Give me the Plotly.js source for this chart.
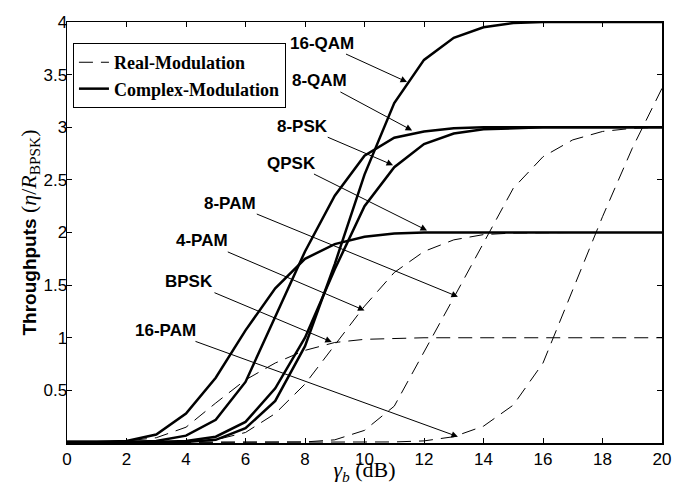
<!DOCTYPE html>
<html>
<head>
<meta charset="utf-8">
<script src="https://cdn.plot.ly/plotly-3.0.1.min.js"></script>
<style>html,body{margin:0;padding:0;background:#fff;}#chart{width:676px;height:485px;}</style>
</head>
<body>
<div id="chart"></div>
<script>
// SNR axis (dB)
const snr = [0,1,2,3,4,5,6,7,8,9,10,11,12,13,14,15,16,17,18,19,20];

// Complex modulations (solid)
const qpsk  = [0.01,0.01,0.02,0.08,0.28,0.62,1.07,1.47,1.75,1.89,1.96,1.99,2.0,2.0,2.0,2.0,2.0,2.0,2.0,2.0,2.0];
const qam8  = [0.01,0.01,0.01,0.02,0.07,0.22,0.58,1.2,1.82,2.35,2.73,2.9,2.96,2.99,3.0,3.0,3.0,3.0,3.0,3.0,3.0];
const psk8  = [0.01,0.01,0.01,0.01,0.02,0.06,0.2,0.52,1.0,1.65,2.25,2.62,2.84,2.94,2.98,2.99,3.0,3.0,3.0,3.0,3.0];
const qam16 = [0.01,0.01,0.01,0.01,0.01,0.03,0.14,0.4,0.92,1.7,2.55,3.23,3.64,3.85,3.95,3.99,4.0,4.0,4.0,4.0,4.0];

// Real modulations (dashed)
const bpsk  = [0.01,0.01,0.02,0.05,0.15,0.38,0.6,0.76,0.88,0.955,0.985,0.995,1.0,1.0,1.0,1.0,1.0,1.0,1.0,1.0,1.0];
const pam4  = [0.005,0.005,0.005,0.005,0.01,0.03,0.1,0.28,0.56,0.93,1.3,1.62,1.82,1.93,1.98,1.995,2.0,2.0,2.0,2.0,2.0];
const pam8  = [0.005,0.005,0.005,0.005,0.005,0.005,0.005,0.005,0.01,0.03,0.12,0.35,0.86,1.38,1.9,2.42,2.72,2.88,2.96,2.99,3.0];
const pam16 = [0.005,0.005,0.005,0.005,0.005,0.005,0.005,0.005,0.005,0.005,0.01,0.01,0.02,0.06,0.16,0.36,0.76,1.45,2.15,2.8,3.37];

const legendNames = ['Real-Modulation','Complex-Modulation'];
const yTickVals = [0.5,1,1.5,2,2.5,3,3.5,4];
const yTickText = ['0.5','1','1.5','2','2.5','3','3.5','4'];
const xTickVals = [0,2,4,6,8,10,12,14,16,18,20];

const solid = {color:'#000', width:2.5};
const dashed = {color:'#000', width:1, dash:'14px,8px'};

function tr(y, line, grp, show){
  return {x:snr, y:y, type:'scatter', mode:'lines', line:line,
          legendgroup:grp, showlegend:show, name:grp, hoverinfo:'skip'};
}

const data = [
  tr(bpsk, dashed, legendNames[0], true),
  tr(pam4, dashed, legendNames[0], false),
  tr(pam8, dashed, legendNames[0], false),
  tr(pam16, dashed, legendNames[0], false),
  tr(qpsk, solid, legendNames[1], true),
  tr(qam8, solid, legendNames[1], false),
  tr(psk8, solid, legendNames[1], false),
  tr(qam16, solid, legendNames[1], false)
];

function ann(text, x, y, ax, ay){
  return {text:'<b>'+text+'</b>', x:x, y:y, ax:ax, ay:ay, xref:'x', yref:'y', axref:'x', ayref:'y',
          showarrow:true, arrowhead:2, arrowsize:1.3, arrowwidth:1, arrowcolor:'#000',
          font:{family:'Liberation Sans, Arial, sans-serif', size:17, color:'#000'}};
}

const annotations = [
  ann('16-QAM', 11.43, 3.43, 8.57, 3.80),
  ann('8-QAM', 11.6, 2.97, 8.5, 3.44),
  ann('8-PSK', 10.96, 2.64, 7.9, 3.01),
  ann('QPSK', 12.1, 2.02, 7.56, 2.66),
  ann('8-PAM', 13.14, 1.39, 5.48, 2.28),
  ann('4-PAM', 10.0, 1.26, 4.54, 1.92),
  ann('BPSK', 8.9, 0.96, 4.1, 1.53),
  ann('16-PAM', 13.14, 0.06, 3.3, 1.07)
];

const layout = {
  width:676, height:485,
  margin:{l:67, r:14, t:22, b:42},
  paper_bgcolor:'#fff', plot_bgcolor:'#fff',
  font:{family:'Liberation Sans, Arial, sans-serif', size:17, color:'#000'},
  xaxis:{range:[0,20], tickvals:xTickVals, ticks:'inside', ticklen:5, tickcolor:'#000',
         showline:true, linecolor:'#000', linewidth:1.5, mirror:'ticks', showgrid:false, zeroline:false,
         tickfont:{size:17},
         title:{text:'<i>γ</i><sub><i>b</i></sub> (dB)', standoff:6,
                font:{family:'Liberation Serif, Times New Roman, serif', size:22}}},
  yaxis:{range:[0,4], tickvals:yTickVals, ticktext:yTickText, ticks:'inside', ticklen:5, tickcolor:'#000',
         showline:true, linecolor:'#000', linewidth:1.5, mirror:'ticks', showgrid:false, zeroline:false,
         tickfont:{size:17}, ticklabelstandoff:-5,
         title:{text:'<b>Throughputs</b> <span style="font-family:Liberation Serif;font-weight:normal;font-size:22px">(<i>η</i>/<i>R</i><sub>BPSK</sub>)</span>',
                standoff:2,
                font:{family:'Liberation Sans, Arial, sans-serif', size:19}}},
  legend:{x:0.01, y:0.95, xanchor:'left', yanchor:'top', bgcolor:'#fff', bordercolor:'#000', borderwidth:1,
          font:{family:'Liberation Serif, Times New Roman, serif', size:18, color:'#000', weight:'bold'},
          tracegroupgap:0},
  annotations:annotations,
  showlegend:true
};

Plotly.newPlot('chart', data, layout, {displayModeBar:false, staticPlot:true});
</script>
</body>
</html>
